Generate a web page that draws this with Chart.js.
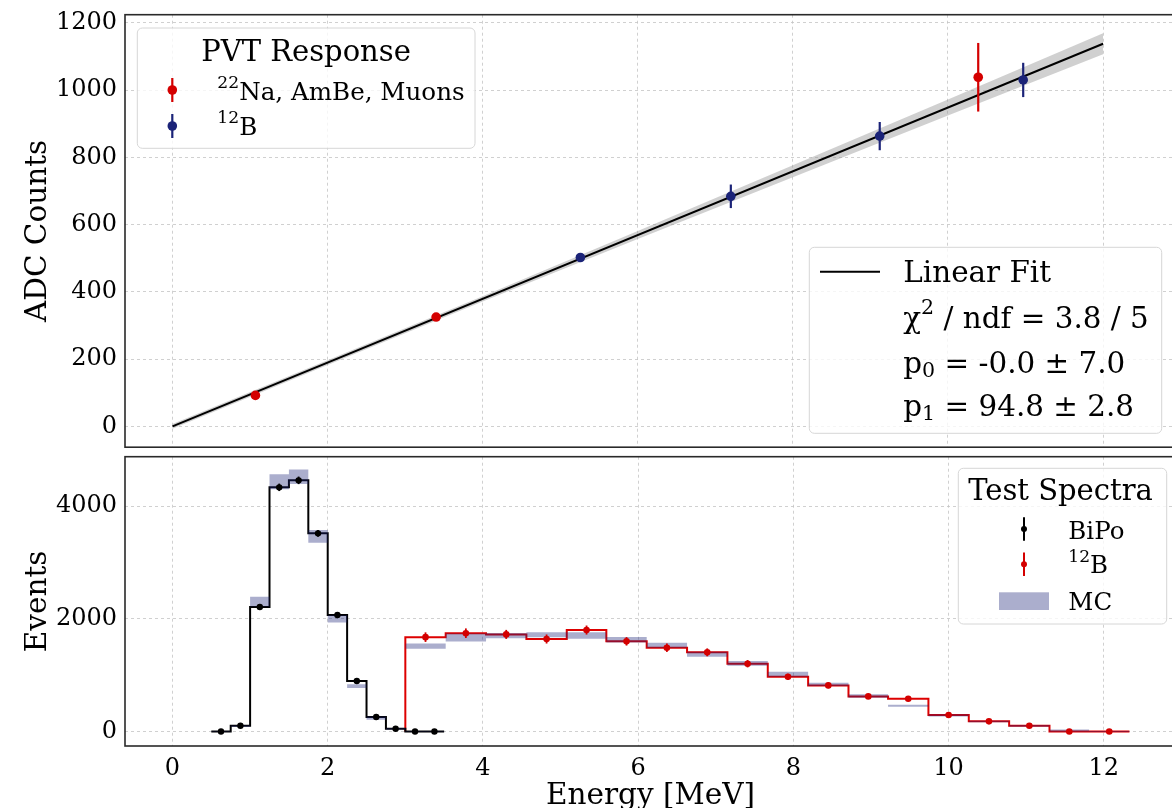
<!DOCTYPE html>
<html><head><meta charset="utf-8">
<script src="https://cdn.jsdelivr.net/npm/chart.js@4.4.1/dist/chart.umd.min.js"></script>
<style>
html,body{margin:0;padding:0;background:#fff;overflow:hidden;width:1172px;height:808px;position:relative}
canvas{position:absolute;left:0}
#top{top:0}
#bot{top:452px}
</style></head><body>
<canvas id="top" width="1180" height="452"></canvas>
<canvas id="bot" width="1180" height="364"></canvas>
<script>
// ---------------- data ----------------
const xTicks = [0, 2, 4, 6, 8, 10, 12];
const topYTicks = [0, 200, 400, 600, 800, 1000, 1200];
const botYTicks = [0, 2000, 4000];

// PVT response calibration points
const calibEnergyRed = [1.07, 3.40, 10.39];
const calibAdcRed    = [92, 325, 1038];
const calibErrRed    = [4, 5, 102];
const calibEnergyBlue = [5.26, 7.20, 9.12, 10.97];
const calibAdcBlue    = [502, 684, 863, 1030];
const calibErrBlue    = [5, 35, 42, 51];

// linear fit and its uncertainty band
const fitEnergy = [0, 12];
const fitAdc    = [0, 1137.6];
const bandEnergy = [0, 2, 4, 6, 8, 10, 12];
const bandLow    = [-7, 182.6, 371.2, 556.8, 740.4, 924, 1106.6];
const bandHigh   = [7, 196.6, 387.2, 580.8, 776.4, 972, 1168.6];

// BiPo test spectrum
const bipoEdges  = [0.5, 0.75, 1.0, 1.25, 1.5, 1.75, 2.0, 2.25, 2.5, 2.75, 3.0, 3.25, 3.5];
const bipoCounts = [5, 107, 2210, 4331, 4455, 3516, 2068, 898, 260, 54, 5, 5];
const bipoErr    = [5, 10, 47, 66, 67, 59, 45, 30, 16, 8, 3, 3];
const bipoMC     = [3, 100, 2306, 4430, 4519, 3463, 2000, 808, 242, 50, 3, 3];
const bipoMCErr  = [5, 10, 88, 133, 130, 112, 65, 35, 30, 10, 5, 5];

// 12B test spectrum
const b12Edges  = [3.00, 3.52, 4.04, 4.56, 5.08, 5.59, 6.11, 6.63, 7.15, 7.67, 8.19, 8.71, 9.22, 9.74, 10.26, 10.78, 11.30, 11.81, 12.33];
const b12Counts = [1676, 1746, 1725, 1643, 1802, 1602, 1489, 1407, 1205, 973, 821, 626, 584, 296, 184, 106, 5, 5];
const b12Err    = [85, 85, 80, 80, 80, 75, 75, 70, 65, 55, 50, 45, 45, 35, 30, 25, 10, 10];
const b12MC     = [1517, 1670, 1702, 1717, 1705, 1630, 1533, 1374, 1212, 1019, 840, 633, 461, 290, 181, 104, 21, 5];
const b12MCErr  = [47, 70, 47, 44, 56, 47, 44, 44, 41, 44, 30, 30, 18, 18, 15, 15, 20, 10];

// ---------------- styles ----------------
const RED = '#d40000', BLUE = '#1b2378';
const MC_FILL = 'rgba(27,35,120,0.37)';
const FIT_FILL = 'rgba(150,150,150,0.45)';
const FONT = "'DejaVu Serif', serif";
Chart.defaults.font.family = FONT;
Chart.defaults.color = '#000';

const X_MIN = -0.612, X_MAX = 12.93;

const pts = (xs, ys) => xs.map((x, i) => ({x, y: ys[i]}));
const steps = (edges, vals) => edges.map((e, i) => ({x: e, y: vals[Math.min(i, vals.length - 1)]}));
const centers = edges => edges.slice(0, -1).map((e, i) => (e + edges[i + 1]) / 2);
const band = (edges, v, err, sign) => steps(edges, v.map((c, i) => c + sign * err[i]));

const gridOpts = {color: '#c4c4c4', lineWidth: 0.8, drawTicks: false};
const noPad = a => { a.paddingTop = 0; a.paddingBottom = 0; a.paddingLeft = 0; a.paddingRight = 0; };

function xScale(labels) {
  return {
    type: 'linear', min: X_MIN, max: X_MAX,
    afterBuildTicks: a => { a.ticks = xTicks.map(v => ({value: v})); },
    ticks: {display: labels, font: {size: 24}, padding: 8, maxRotation: 0, autoSkip: false, callback: v => String(v)},
    grid: gridOpts,
    border: {display: false, dash: [3, 3]},
    title: labels ? {display: true, text: 'Energy [MeV]', font: {size: 29.5}, padding: {top: 0, bottom: 2.3}} : {display: false},
    afterFit: a => { a.height = labels ? 70 : 0; noPad(a); }
  };
}
function yScale(min, max, ticks, title) {
  return {
    type: 'linear', min, max,
    afterBuildTicks: a => { a.ticks = ticks.map(v => ({value: v})); },
    ticks: {font: {size: 24}, padding: 8, callback: v => String(v)},
    grid: gridOpts,
    border: {display: false, dash: [3, 3]},
    title: {display: true, text: title, font: {size: 29.5}, padding: {top: 20.4, bottom: 0}},
    afterFit: a => { a.width = 125; noPad(a); }
  };
}

// ---------------- plugins ----------------
const errPlugin = {
  id: 'errbars',
  beforeDatasetDraw(chart, args) {
    const ds = chart.data.datasets[args.index];
    if (!ds.yErr) return;
    const ctx = chart.ctx, xs = chart.scales.x, ys = chart.scales.y;
    ctx.save();
    ctx.strokeStyle = ds.borderColor; ctx.lineWidth = ds.errWidth || 2;
    ds.data.forEach((p, j) => {
      const px = xs.getPixelForValue(p.x);
      ctx.beginPath();
      ctx.moveTo(px, ys.getPixelForValue(p.y - ds.yErr[j]));
      ctx.lineTo(px, ys.getPixelForValue(p.y + ds.yErr[j]));
      ctx.stroke();
    });
    ctx.restore();
  }
};
const framePlugin = {
  id: 'frame',
  afterDatasetsDraw(chart) {
    const {ctx, chartArea: c} = chart;
    ctx.save(); ctx.strokeStyle = '#2a2a2a'; ctx.lineWidth = 1.6;
    ctx.strokeRect(c.left, c.top, c.right - c.left, c.bottom - c.top);
    ctx.restore();
  }
};
function richText(ctx, x, y, parts, size) {
  let cx = x;
  ctx.textAlign = 'left'; ctx.textBaseline = 'alphabetic'; ctx.fillStyle = '#000';
  for (const p of parts) {
    let fs = size, dy = 0;
    if (p.sup) { fs = size * 0.7; dy = -size * 0.48; }
    if (p.sub) { fs = size * 0.7; dy = size * 0.12; }
    ctx.font = fs + 'px ' + FONT;
    ctx.fillText(p.t, cx, y + dy);
    cx += ctx.measureText(p.t).width;
  }
}
function legendBox(ctx, x0, y0, x1, y1) {
  ctx.save();
  ctx.fillStyle = 'rgba(255,255,255,0.8)'; ctx.strokeStyle = '#d6d6d6'; ctx.lineWidth = 1;
  ctx.beginPath(); ctx.roundRect(x0, y0, x1 - x0, y1 - y0, 5); ctx.fill(); ctx.stroke();
  ctx.restore();
}
function errMarker(ctx, x, y, color, half, r, lw) {
  ctx.save();
  ctx.strokeStyle = color; ctx.fillStyle = color; ctx.lineWidth = lw;
  ctx.beginPath(); ctx.moveTo(x, y - half); ctx.lineTo(x, y + half); ctx.stroke();
  ctx.beginPath(); ctx.arc(x, y, r, 0, Math.PI * 2); ctx.fill();
  ctx.restore();
}
const topLegend = {
  id: 'topLegend',
  afterDraw(chart) {
    const ctx = chart.ctx;
    legendBox(ctx, 137.3, 28, 475, 148.3);
    ctx.save();
    ctx.font = '29px ' + FONT; ctx.textAlign = 'center'; ctx.fillStyle = '#000';
    ctx.fillText('PVT Response', 306, 61);
    ctx.restore();
    errMarker(ctx, 172.3, 90, RED, 12, 4.8, 2.2);
    richText(ctx, 217.3, 100, [{t: '22', sup: true}, {t: 'Na, AmBe, Muons'}], 24.6);
    errMarker(ctx, 172.3, 126, BLUE, 12, 4.8, 2.2);
    richText(ctx, 217.3, 135, [{t: '12', sup: true}, {t: 'B'}], 24.6);

    legendBox(ctx, 809.3, 247.3, 1161.7, 433.3);
    ctx.save(); ctx.strokeStyle = '#000'; ctx.lineWidth = 2;
    ctx.beginPath(); ctx.moveTo(820, 271.7); ctx.lineTo(880, 271.7); ctx.stroke(); ctx.restore();
    richText(ctx, 903.3, 282.3, [{t: 'Linear Fit'}], 29.4);
    richText(ctx, 903.3, 328.3, [{t: 'χ'}, {t: '2', sup: true}, {t: ' / ndf = 3.8 / 5'}], 29.4);
    richText(ctx, 903.3, 373.3, [{t: 'p'}, {t: '0', sub: true}, {t: ' = -0.0 ± 7.0'}], 29.4);
    richText(ctx, 903.3, 416, [{t: 'p'}, {t: '1', sub: true}, {t: ' = 94.8 ± 2.8'}], 29.4);
  }
};
const botLegend = {
  id: 'botLegend',
  afterDraw(chart) {
    const ctx = chart.ctx;
    legendBox(ctx, 958.3, 16.3, 1166.7, 172);
    ctx.save();
    ctx.font = '29px ' + FONT; ctx.textAlign = 'center'; ctx.fillStyle = '#000';
    ctx.fillText('Test Spectra', 1060.5, 48);
    ctx.restore();
    errMarker(ctx, 1024, 77, '#000', 11.7, 3, 2);
    richText(ctx, 1068.3, 87, [{t: 'BiPo'}], 24.5);
    errMarker(ctx, 1024, 112.3, RED, 11.7, 3, 2);
    richText(ctx, 1068.3, 121.3, [{t: '12', sup: true}, {t: 'B'}], 24.5);
    ctx.save(); ctx.fillStyle = MC_FILL; ctx.fillRect(999, 140.3, 50, 17.7); ctx.restore();
    richText(ctx, 1068.3, 158, [{t: 'MC'}], 24.5);
  }
};

const common = {
  responsive: false, maintainAspectRatio: false, animation: false, devicePixelRatio: 1, events: [],
  plugins: {legend: {display: false}, tooltip: {enabled: false}}
};
const lineDs = (data, color, width, order, extra) => Object.assign({
  type: 'line', data, borderColor: color, borderWidth: width, pointRadius: 0, fill: false, order, tension: 0
}, extra || {});

// ---------------- top chart ----------------
new Chart(document.getElementById('top'), {
  type: 'scatter',
  data: {datasets: [
    lineDs(pts(bandEnergy, bandLow), 'transparent', 0, 10),
    lineDs(pts(bandEnergy, bandHigh), 'transparent', 0, 9, {fill: '-1', backgroundColor: FIT_FILL}),
    lineDs(pts(fitEnergy, fitAdc), '#000', 2, 5),
    {data: pts(calibEnergyRed, calibAdcRed), yErr: calibErrRed, errWidth: 2.2,
     backgroundColor: RED, borderColor: RED, pointRadius: 4.8, borderWidth: 0, order: 1},
    {data: pts(calibEnergyBlue, calibAdcBlue), yErr: calibErrBlue, errWidth: 2.2,
     backgroundColor: BLUE, borderColor: BLUE, pointRadius: 4.8, borderWidth: 0, order: 1}
  ]},
  options: Object.assign({}, common, {
    layout: {padding: {left: 0, right: 4, top: 14.7, bottom: 4}},
    scales: {x: xScale(false), y: yScale(-62, 1224, topYTicks, 'ADC Counts')}
  }),
  plugins: [errPlugin, framePlugin, topLegend]
});

// ---------------- bottom chart ----------------
new Chart(document.getElementById('bot'), {
  type: 'scatter',
  data: {datasets: [
    lineDs(band(bipoEdges, bipoMC, bipoMCErr, -1), 'transparent', 0, 1, {stepped: true}),
    lineDs(band(bipoEdges, bipoMC, bipoMCErr, 1), 'transparent', 0, 0, {stepped: true, fill: '-1', backgroundColor: MC_FILL}),
    lineDs(band(b12Edges, b12MC, b12MCErr, -1), 'transparent', 0, 1, {stepped: true}),
    lineDs(band(b12Edges, b12MC, b12MCErr, 1), 'transparent', 0, 0, {stepped: true, fill: '-1', backgroundColor: MC_FILL}),
    lineDs(steps(bipoEdges, bipoCounts), '#000', 2, 5, {stepped: true}),
    lineDs([{x: b12Edges[0], y: 0}].concat(steps(b12Edges, b12Counts)), '#dd0000', 2, 5, {stepped: true}),
    {data: pts(centers(bipoEdges), bipoCounts), yErr: bipoErr, errWidth: 1.8,
     backgroundColor: '#000', borderColor: '#000', pointRadius: 3.2, borderWidth: 0, order: -1},
    {data: pts(centers(b12Edges), b12Counts), yErr: b12Err, errWidth: 1.8,
     backgroundColor: RED, borderColor: RED, pointRadius: 3.3, borderWidth: 0, order: -1}
  ]},
  options: Object.assign({}, common, {
    layout: {padding: {left: 0, right: 4, top: 4.7, bottom: 0}},
    scales: {x: xScale(true), y: yScale(-253, 4874, botYTicks, 'Events')}
  }),
  plugins: [errPlugin, framePlugin, botLegend]
});
</script>
</body></html>
